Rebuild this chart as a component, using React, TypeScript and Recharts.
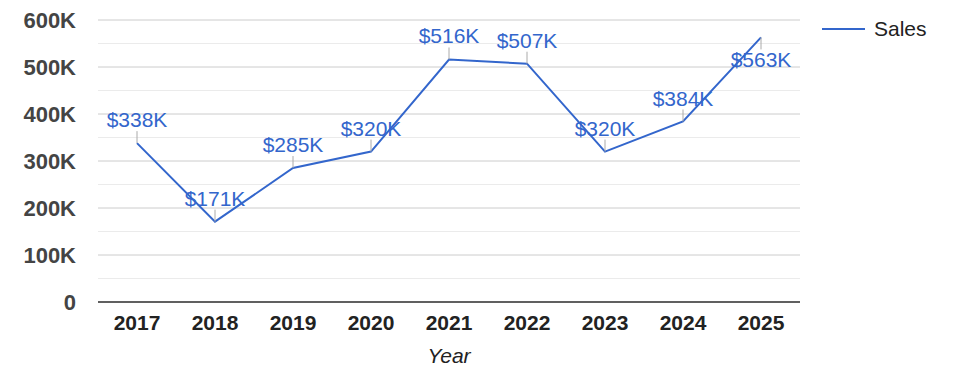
import { LineChart, Line, XAxis, YAxis, CartesianGrid, ReferenceLine } from "recharts"

const years = ["2017", "2018", "2019", "2020", "2021", "2022", "2023", "2024", "2025"]
const sales = [338000, 171000, 285000, 320000, 516000, 507000, 320000, 384000, 563000]
const yTicks = [0, 100000, 200000, 300000, 400000, 500000, 600000]
const minorTicks = [50000, 150000, 250000, 350000, 450000, 550000]

const data = years.map((year, i) => ({ year, sales: sales[i] }))

const FONT = "Arial, 'Liberation Sans', sans-serif"
const BLUE = "#3366cc"
const PLOT_TOP = 20

const fmtAxis = (v: number) => (v === 0 ? "0" : `${v / 1000}K`)

const DataLabel = ({ x, y, value }: any) => {
    const flip = y - 32 < PLOT_TOP
    const text = `$${Math.round(value / 1000)}K`
    return (
        <g>
            <line x1={x} x2={x} y1={flip ? y : y - 12} y2={flip ? y + 12 : y} stroke="#aaaaaa" strokeWidth={1} />
            <text x={x} y={flip ? y + 30 : y - 16} textAnchor="middle" fill={BLUE} fontSize={21} fontFamily={FONT}>
                {text}
            </text>
        </g>
    )
}

export default function App() {
    return (
        <div style={{ position: "absolute", left: 0, top: 0, width: 975, height: 378, background: "#fff" }}>
            <LineChart width={975} height={378} data={data} margin={{ top: PLOT_TOP, right: 175, left: 0, bottom: 0 }}>
                {minorTicks.map((v) => (
                    <ReferenceLine key={v} y={v} stroke="#ebebeb" strokeWidth={1} />
                ))}
                <CartesianGrid vertical={false} stroke="#cccccc" />
                <XAxis
                    dataKey="year"
                    height={76}
                    padding={{ left: 39, right: 39 }}
                    axisLine={{ stroke: "#333333", strokeWidth: 1.5 }}
                    tickLine={false}
                    tickMargin={7}
                    tick={{ fill: "#222222", fontSize: 21, fontWeight: "bold", fontFamily: FONT }}
                    label={{ value: "Year", position: "insideBottom", offset: 15, fill: "#222222", fontSize: 21, fontStyle: "italic", fontFamily: FONT }}
                />
                <YAxis
                    width={98}
                    domain={[0, 600000]}
                    ticks={yTicks}
                    tickFormatter={fmtAxis}
                    axisLine={false}
                    tickLine={false}
                    tickMargin={16}
                    tick={{ fill: "#444444", fontSize: 22, fontWeight: "bold", fontFamily: FONT }}
                />
                <Line
                    type="linear"
                    dataKey="sales"
                    name="Sales"
                    stroke={BLUE}
                    strokeWidth={2}
                    dot={false}
                    activeDot={false}
                    label={<DataLabel />}
                    isAnimationActive={false}
                />
            </LineChart>
            <div style={{ position: "absolute", left: 822, top: 17, display: "flex", alignItems: "center", fontFamily: FONT, fontSize: 21, color: "#222" }}>
                <div style={{ width: 43, height: 2, background: BLUE, marginRight: 9 }} />
                <span>Sales</span>
            </div>
        </div>
    )
}
